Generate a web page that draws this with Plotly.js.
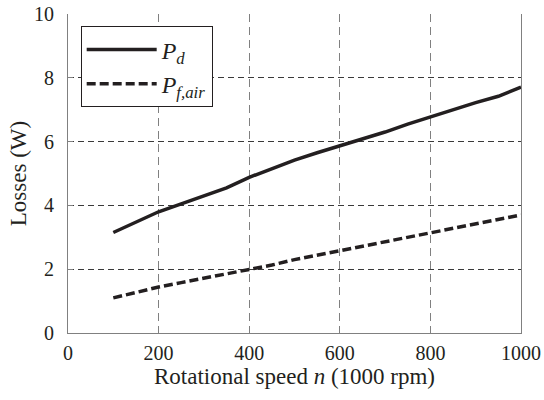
<!DOCTYPE html>
<html>
<head>
<meta charset="utf-8">
<script src="https://cdn.plot.ly/plotly-3.0.1.min.js"></script>
<style>html,body{margin:0;padding:0;background:#fff;}#chart{width:544px;height:400px;}</style>
</head>
<body>
<div id="chart"></div>
<script>
const speed = [100,150,200,250,300,350,400,450,500,550,600,650,700,750,800,850,900,950,1000];
const pd = [3.15,3.47,3.8,4.05,4.3,4.55,4.88,5.15,5.42,5.65,5.86,6.08,6.3,6.55,6.78,7.0,7.22,7.42,7.71];
const pfair = [1.1,1.27,1.44,1.58,1.72,1.86,2.0,2.13,2.3,2.44,2.58,2.72,2.85,2.98,3.13,3.28,3.4,3.56,3.7];
const xTicks = [0,200,400,600,800,1000];
const yTicks = [0,2,4,6,8,10];
const nameD = '<i>P</i><sub><i>d</i></sub>';
const nameF = '<i>P</i><sub><i>f,air</i></sub>';

const font = "'Liberation Serif', 'Times New Roman', serif";
const traces = [
  {x: speed, y: pd, name: nameD, mode: 'lines', line: {color: '#231f20', width: 3.5}},
  {x: speed, y: pfair, name: nameF, mode: 'lines', line: {color: '#231f20', width: 3.5, dash: '9px,4px'}}
];
const layout = {
  width: 544, height: 400,
  margin: {l: 68, r: 23, t: 13.5, b: 66.5},
  paper_bgcolor: '#fff', plot_bgcolor: '#fff',
  font: {family: font, color: '#231f20', size: 20},
  showlegend: true,
  legend: {
    x: 0.028, y: 0.961, xanchor: 'left', yanchor: 'top',
    bgcolor: '#fff', bordercolor: '#231f20', borderwidth: 1,
    font: {family: font, size: 24, color: '#231f20'},
    itemwidth: 70
  },
  xaxis: {
    range: [0, 1000], tickvals: xTicks, ticktext: xTicks.map(String),
    showline: true, linecolor: '#808080', linewidth: 1, mirror: false,
    ticks: 'inside', ticklen: 6, tickcolor: '#808080',
    showgrid: true, gridcolor: '#808080', gridwidth: 1, griddash: '8px,5px',
    zeroline: false, ticklabelstandoff: 2,
    tickfont: {family: font, size: 20, color: '#231f20'},
    title: {text: 'Rotational speed <i>n</i> (1000 rpm)', font: {family: font, size: 23, color: '#231f20'}, standoff: 4}
  },
  yaxis: {
    range: [0, 10], tickvals: yTicks, ticktext: yTicks.map(String),
    showline: true, linecolor: '#808080', linewidth: 1, mirror: true,
    ticks: 'inside', ticklen: 5, tickcolor: '#808080',
    showgrid: true, gridcolor: '#3a3a3a', gridwidth: 1, griddash: '6px,4px',
    zeroline: false, ticklabelstandoff: 9,
    tickfont: {family: font, size: 20, color: '#231f20'},
    title: {text: 'Losses (W)', font: {family: font, size: 23, color: '#231f20'}, standoff: 0}
  }
};
Plotly.newPlot('chart', traces, layout, {displayModeBar: false, staticPlot: true});
</script>
</body>
</html>
